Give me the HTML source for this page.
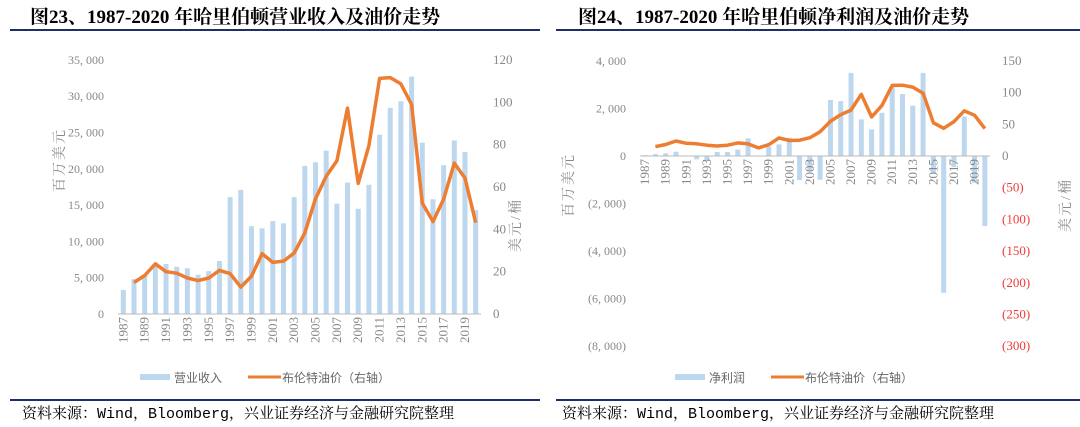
<!DOCTYPE html>
<html><head><meta charset="utf-8"><style>
body{margin:0;background:#fff;width:1080px;height:427px;overflow:hidden}
svg{display:block}
.t{font-family:"Liberation Serif","Noto Serif CJK SC",serif;font-weight:bold;font-size:19px;fill:#000}
.ax{font-family:"Liberation Serif","Noto Serif CJK SC",serif;font-size:12px;fill:#888}
.lg{font-family:"Liberation Sans","Noto Sans CJK SC",sans-serif;font-size:12px;fill:#666}
.ft{font-family:"Liberation Mono","Noto Serif CJK SC",serif;font-size:15px;fill:#000}
</style></head><body>
<svg id="s" width="1080" height="427">
<text class="t" x="30" y="23">图23、1987-2020 年哈里伯顿营业收入及油价走势</text>
<text class="t" x="578" y="23">图24、1987-2020 年哈里伯顿净利润及油价走势</text>
<rect x="10" y="29" width="530" height="2" fill="#1f2d6b"/>
<rect x="556" y="29" width="524" height="2" fill="#1f2d6b"/>
<rect x="10" y="399" width="530" height="2" fill="#1f2d6b"/>
<rect x="556" y="399" width="524" height="2" fill="#1f2d6b"/>
<text class="ft" x="22" y="418">资料来源：Wind，Bloomberg，兴业证券经济与金融研究院整理</text>
<text class="ft" x="562" y="418">资料来源：Wind，Bloomberg，兴业证券经济与金融研究院整理</text>
<g id="L"></g><g id="R"></g>
</svg>
<script>
const years=[1987,1988,1989,1990,1991,1992,1993,1994,1995,1996,1997,1998,1999,2000,2001,2002,2003,2004,2005,2006,2007,2008,2009,2010,2011,2012,2013,2014,2015,2016,2017,2018,2019,2020];
const revenue=[3300,4800,5300,6600,6900,6500,6300,5400,5900,7300,16100,17100,12100,11800,12800,12500,16100,20400,20900,22500,15200,18100,14500,17800,24700,28400,29300,32700,23600,15800,20500,23900,22300,14300];
const netIncome=[40,80,110,180,0,-140,-200,170,170,270,740,-20,400,490,770,-1010,-600,-1000,2360,2310,3500,1540,1120,1820,2900,2610,2120,3500,-700,-5760,-460,1660,-1130,-2950];
const oil=[null,14.9,18.2,23.7,20,19.3,17,15.8,17,20.6,19.1,12.7,17.9,28.5,24.4,25,28.8,38.3,54.5,65.1,72.4,97.3,61.7,79.5,111.3,111.7,108.7,99,52.4,43.7,54.2,71.3,64.2,43.2];
const leftTicks=[0,5000,10000,15000,20000,25000,30000,35000];
const leftRTicks=[0,20,40,60,80,100,120];
const rightTicks=[4000,2000,0,-2000,-4000,-6000,-8000];
const rightRTicks=[150,100,50,0,-50,-100,-150,-200,-250,-300];
const NS='http://www.w3.org/2000/svg';
function mk(p,tag,a,txt){const e=document.createElementNS(NS,tag);for(const k in a)e.setAttribute(k,a[k]);if(txt!=null)e.textContent=txt;p.appendChild(e);return e;}
function fmt(v){const s=Math.abs(v).toLocaleString('en-US').replace(/,/g,', ');return v<0?'('+s+')':s;}
function draw(g,o){
  const n=years.length,step=(o.x1-o.x0)/n;
  const xc=i=>o.x0+step*(i+0.5);
  const yL=v=>o.zeroY-(v/o.lUnit)*o.lPx;
  const yR=v=>o.zeroY-(v/o.rUnit)*o.rPx;
  o.lt.forEach(v=>{const t=mk(g,'text',{class:'ax',x:o.x0-14,y:yL(v)+4,'text-anchor':'end'},fmt(v));
    
    });
  o.rt.forEach(v=>{const t=mk(g,'text',{class:'ax',x:o.x1+12,y:yR(v)+4,style:'font-size:13px;fill:'+(v<0?'#ee3a3a':'#888')},fmt(v));
    
    });
  o.vals.forEach((v,i)=>{const y=yL(v);const b=mk(g,'rect',{x:xc(i)-2.5,y:Math.min(y,o.zeroY),width:5,height:Math.abs(o.zeroY-y),fill:'#bdd7ee'});
    
    });
  const ax=mk(g,'line',{x1:o.x0,x2:o.x1,y1:o.zeroY,y2:o.zeroY,stroke:'#bbb','stroke-width':1});
  
  
  years.forEach((yr,i)=>{if(i%2)return;const x=xc(i)+4,y=o.zeroY+3;
    const t=mk(g,'text',{class:'ax',x:x,y:y,'text-anchor':'end',transform:`rotate(-90 ${x} ${y})`,style:'font-size:13px'},yr);
    
    });
  let d='';oil.forEach((v,i)=>{if(v==null)return;d+=(d?'L':'M')+xc(i).toFixed(1)+' '+yR(v).toFixed(1);});
  const p=mk(g,'path',{d:d,fill:'none',stroke:'#ed7d31','stroke-width':3.5,'stroke-linejoin':'round'});
  
  
  const a=mk(g,'text',{class:'ax',x:0,y:0,transform:`translate(${o.lab1[0]} ${o.lab1[1]}) rotate(-90)`,'text-anchor':'middle',style:'font-size:14px;letter-spacing:2px'},'百万美元');
  
  
  const b=mk(g,'text',{class:'ax',x:0,y:0,transform:`translate(${o.lab2[0]} ${o.lab2[1]}) rotate(-90)`,'text-anchor':'middle',style:'font-size:14px;letter-spacing:2px'},'美元/桶');
  
  
  const lx=o.legX;
  const r1=mk(g,'rect',{x:lx,y:374,width:30,height:6,fill:'#bdd7ee'});
  
  
  const t1=mk(g,'text',{class:'lg',x:lx+34,y:382},o.legName);
  
  
  const l2=mk(g,'line',{x1:lx+o.legGap,x2:lx+o.legGap+33,y1:377,y2:377,stroke:'#ed7d31','stroke-width':3});
  
  
  const t2=mk(g,'text',{class:'lg',x:lx+o.legGap+34,y:382},'布伦特油价（右轴）');
  
  
}
draw(document.getElementById('L'),{x0:118,x1:481,zeroY:314,lUnit:5000,lPx:36.3,rUnit:20,rPx:42.33,lt:leftTicks,rt:leftRTicks,vals:revenue,lab1:[64,160],lab2:[520,225],legX:140,legName:'营业收入',legGap:108});
draw(document.getElementById('R'),{x0:640,x1:990,zeroY:156,lUnit:2000,lPx:47.5,rUnit:50,rPx:31.7,lt:rightTicks,rt:rightRTicks,vals:netIncome,lab1:[573,185],lab2:[1070,205],legX:675,legName:'净利润',legGap:96});
</script>
</body></html>
